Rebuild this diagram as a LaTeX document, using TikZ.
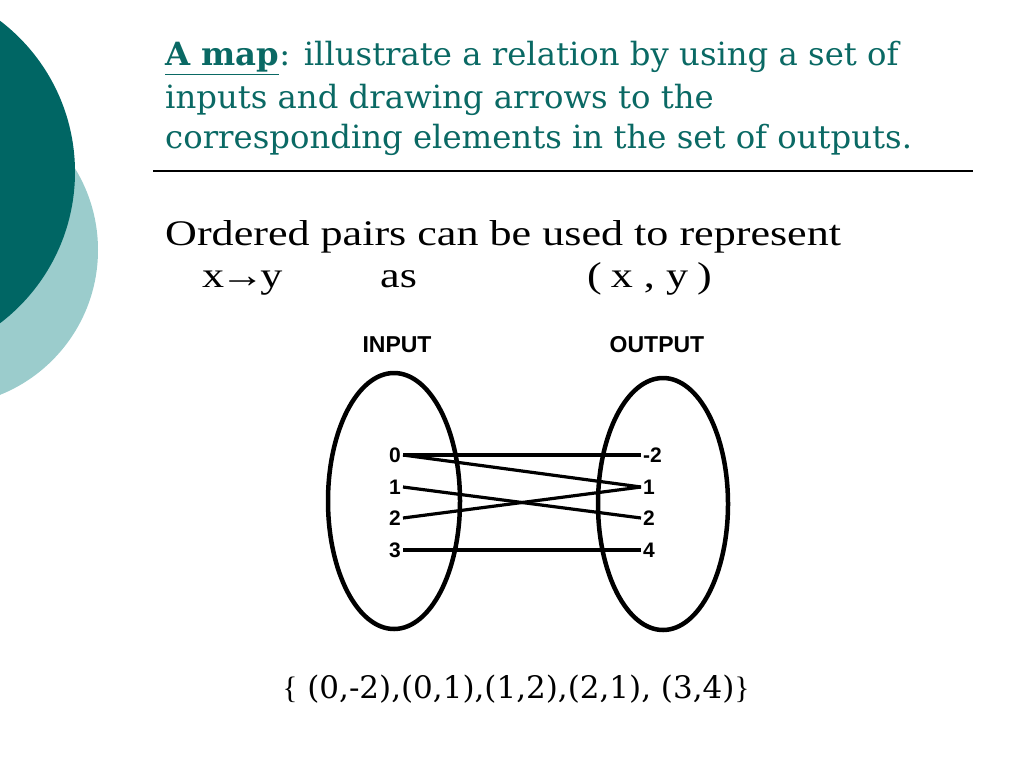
\documentclass[tikz,border=0pt]{standalone}
\usepackage{fontspec}
\setmainfont{Liberation Serif}
\newfontfamily\titlefont[FakeStretch=1.01]{DejaVu Serif}
\newfontfamily\bodyfont[FakeStretch=1.225]{Liberation Serif}
\newfontfamily\setfont{DejaVu Serif}
\newfontfamily\bracefont{Liberation Serif}
\newfontfamily\labelfont{Liberation Sans}
\definecolor{darkteal}{RGB}{0,102,100}
\definecolor{lightteal}{RGB}{155,204,204}
\definecolor{titleteal}{RGB}{10,105,100}
\tikzset{
  titletext/.style={anchor=base west, inner sep=0pt, text=titleteal, font=\titlefont\fontsize{32}{38}\selectfont},
  bodytext/.style={anchor=base west, inner sep=0pt, font=\bodyfont\fontsize{36}{40}\selectfont},
  header/.style={inner sep=0pt, font=\labelfont\bfseries\fontsize{23}{26}\selectfont},
  numl/.style={anchor=east, inner sep=2pt, font=\labelfont\bfseries\fontsize{21}{24}\selectfont},
  numr/.style={anchor=west, inner sep=2pt, font=\labelfont\bfseries\fontsize{21}{24}\selectfont},
  setbox/.style={line width=4.5pt},
  mapline/.style={line width=3.2pt},
}
\begin{document}
\begin{tikzpicture}[x=1pt,y=-1pt]
\useasboundingbox (0,0) rectangle (1024,768);
\begin{scope}
\clip (0,0) rectangle (1024,768);
\fill[lightteal] (-58,250) circle[radius=156];
\fill[darkteal] (-115,172) circle[radius=190];
\end{scope}
% title
\node[titletext] (t1) at (165,66) {\textbf{\underline{A map}}: illustrate a relation by using a set of};
\node[titletext] (t2) at (165,108) {inputs and drawing arrows to the};
\node[titletext] (t3) at (165,148) {corresponding elements in the set of outputs.};
\draw[line width=1.5pt] (153,171) -- (973,171);
% ordered pairs
\node[bodytext] (o1) at (165,245) {Ordered pairs can be used to represent};
\node[bodytext] (o2) at (202,287) {x\kern-4pt→\kern-4pt y};
\node[bodytext] (o3) at (380,287) {as};
\node[bodytext] (o4) at (587,287) {(\kern-2pt{} x , y\kern-2pt{} )};
% map
\node[header] (inp) at (397,345) {INPUT};
\node[header] (outp) at (657,345) {OUTPUT};
\draw[setbox] (394,501) ellipse[x radius=66, y radius=128];
\draw[setbox] (663,504) ellipse[x radius=65, y radius=126];
\node[numl] (l0) at (403,455) {0};
\node[numl] (l1) at (403,487) {1};
\node[numl] (l2) at (403,518) {2};
\node[numl] (l3) at (403,550) {3};
\node[numr] (r2n) at (641,455) {-2};
\node[numr] (r1) at (641,487) {1};
\node[numr] (r2) at (641,518) {2};
\node[numr] (r4) at (641,550) {4};
\draw[mapline] (l0.east) -- (r2n.west);
\draw[mapline] (l0.east) -- (r1.west);
\draw[mapline] (l1.east) -- (r2.west);
\draw[mapline] (l2.east) -- (r1.west);
\draw[mapline] (l3.east) -- (r4.west);
% set
\node[anchor=base, inner sep=0pt, font=\setfont\fontsize{31}{34}\selectfont] (set) at (516,698) {{\bracefont\{} (0,-2),(0,1),(1,2),(2,1), (3,4){\bracefont\}}};
\end{tikzpicture}
\end{document}
